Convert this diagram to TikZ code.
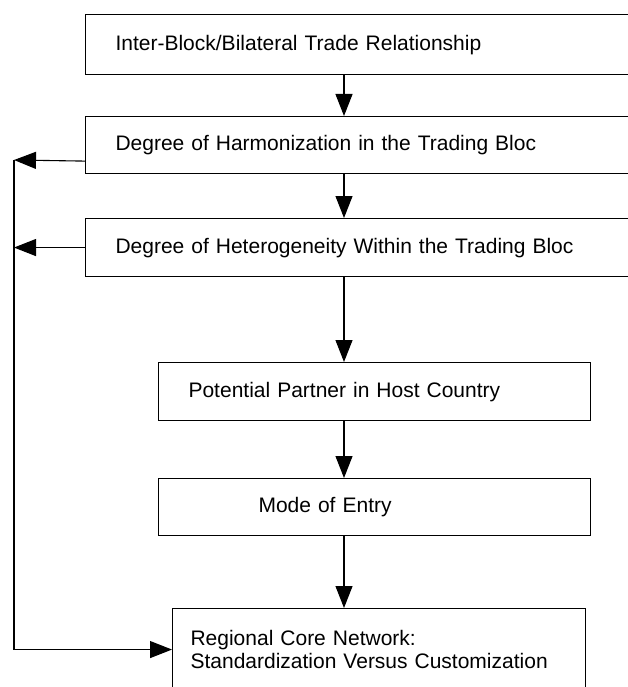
\documentclass[tikz,border=0pt]{standalone}
\usepackage{fontspec}
\setmainfont{Liberation Sans}
\usetikzlibrary{arrows.meta}

\tikzset{
  blk/.style={draw, line width=1.1pt, anchor=north west, inner ysep=0pt, align=left,
    font=\fontsize{21pt}{23pt}\selectfont, text height=15pt, text depth=4pt},
  arr/.style={line width=1.1pt, -{Triangle[length=22pt,width=17pt]}}
}

\begin{document}
\begin{tikzpicture}[x=1pt,y=-1pt]
    \useasboundingbox (0,0) rectangle (628,687);
    \clip (0,0) rectangle (628,687);

    \node[blk, inner xsep=30pt, text width=515pt, minimum height=60pt] (trade) at (85,14) {Inter-Block/Bilateral Trade Relationship};
    \node[blk, inner xsep=30pt, text width=515pt, minimum height=57pt] (harmon) at (85,116) {Degree of Harmonization in the Trading Bloc};
    \node[blk, inner xsep=30pt, text width=515pt, minimum height=58pt] (hetero) at (85,218) {Degree of Heterogeneity Within the Trading Bloc};
    \node[blk, inner xsep=30pt, text width=372pt, minimum height=58pt] (partner) at (158,362) {Potential Partner in Host Country};
    \node[blk, inner xsep=100pt, text width=232pt, minimum height=57pt] (entry) at (158,478) {Mode of Entry};
    \node[blk, inner xsep=18pt, text width=377pt, minimum height=82pt, text depth=23pt] (network) at (172,608) {Regional Core Network:\\Standardization Versus Customization};

    \coordinate (spine) at (344,0);
    \coordinate (rail) at (14,160);

    \draw[arr] (trade.south -| spine) -- (harmon.north -| spine);
    \draw[arr] (harmon.south -| spine) -- (hetero.north -| spine);
    \draw[arr] (hetero.south -| spine) -- (partner.north -| spine);
    \draw[arr] (partner.south -| spine) -- (entry.north -| spine);
    \draw[arr] (entry.south -| spine) -- (network.north -| spine);

    \draw[arr] ([yshift=13pt]harmon.south west) -- (rail);
    \draw[arr] (hetero.west) -- (hetero.west -| rail);
    \draw[arr] (rail) |- (network.west);

\end{tikzpicture}
\end{document}
